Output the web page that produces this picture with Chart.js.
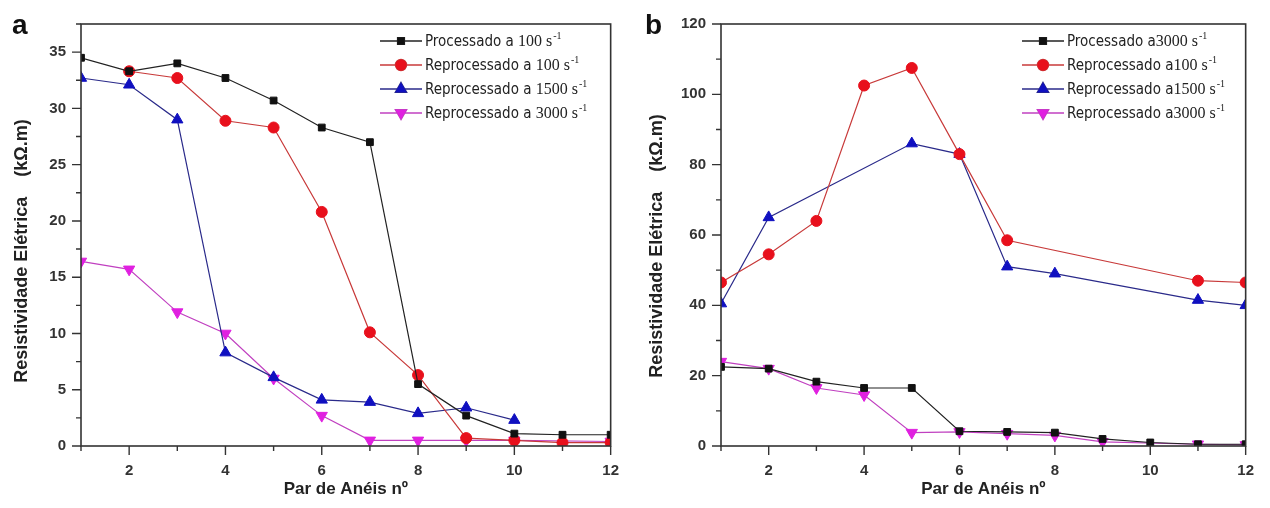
<!DOCTYPE html>
<html>
<head>
<meta charset="utf-8">
<script src="https://cdn.jsdelivr.net/npm/chart.js@4.4.1/dist/chart.umd.min.js"></script>
<style>
  body { margin: 0; background: #fff; }
  .panel { position: absolute; top: 0; }
</style>
</head>
<body>
<canvas id="chart-a" class="panel" width="635" height="508" style="left:0"></canvas>
<canvas id="chart-b" class="panel" width="635" height="508" style="left:635px"></canvas>
<script>
// Ring pair number (x axis), shared by both panels
const rings = [1, 2, 3, 4, 5, 6, 7, 8, 9, 10, 11, 12];

// Panel a
const procA100 = [34.5, 33.3, 34.0, 32.7, 30.7, 28.3, 27.0, 5.5, 2.7, 1.1, 1.0, 1.0];
const reprocA100 = [null, 33.3, 32.7, 28.9, 28.3, 20.8, 10.1, 6.3, 0.7, 0.5, 0.3, 0.3];
const reprocA1500 = [32.7, 32.1, 29.0, 8.3, 6.1, 4.1, 3.9, 2.9, 3.4, 2.3, null, null];
const reprocA3000 = [16.4, 15.7, 11.9, 10.0, 6.0, 2.7, 0.5, 0.5, 0.5, 0.5, null, 0.4];
const labelsA = ['Processado a ', 'Reprocessado a ', 'Reprocessado a ', 'Reprocessado a '];
const ratesA = ['100', '100', '1500', '3000'];

// Panel b
const procB3000 = [22.5, 22.0, 18.3, 16.5, 16.5, 4.2, 4.0, 3.8, 2.0, 1.0, 0.5, 0.5];
const reprocB100 = [46.5, 54.5, 64.0, 102.5, 107.5, 83.0, 58.5, null, null, null, 47.0, 46.5];
const reprocB1500 = [40.5, 65.0, null, null, 86.0, 83.0, 51.0, 49.0, null, null, 41.5, 40.0];
const reprocB3000 = [24.0, 22.0, 16.5, 14.5, 3.8, 4.0, 3.5, 3.0, 1.2, null, 0.5, 0.3];
const labelsB = ['Processado a', 'Reprocessado a', 'Reprocessado a', 'Reprocessado a'];
const ratesB = ['3000', '100', '1500', '3000'];

const styles = [
    { color: '#111111', line: '#222222', point: 'rect', radius: 4.8, rot: 0 },
    { color: '#e8101c', line: '#c83a3a', point: 'circle', radius: 5.5, rot: 0 },
    { color: '#1010c0', line: '#2a2a8a', point: 'triangle', radius: 6.5, rot: 0 },
    { color: '#e020e0', line: '#c040c0', point: 'triangle', radius: 6.5, rot: 180 }
];

function toPoints(values) {
    return rings.map((x, i) => ({ x: x, y: values[i] })).filter(p => p.y !== null);
}

function makeDatasets(series) {
    return series.map((values, i) => ({
        data: toPoints(values),
        borderColor: styles[i].line,
        borderWidth: 1.2,
        pointStyle: styles[i].point,
        pointRotation: styles[i].rot,
        pointRadius: styles[i].radius,
        pointBackgroundColor: styles[i].color,
        pointBorderColor: styles[i].color,
        pointBorderWidth: 1,
        tension: 0
    }));
}

// frame, minor/major ticks, titles, panel letter and legend
const decor = {
    id: 'decor',
    afterDraw(chart, args, opts) {
        const ctx = chart.ctx;
        const a = chart.chartArea;
        const xs = chart.scales.x, ys = chart.scales.y;
        ctx.save();
        ctx.strokeStyle = '#333';
        ctx.lineWidth = 1.6;
        ctx.strokeRect(a.left, a.top, a.right - a.left, a.bottom - a.top);

        ctx.lineWidth = 1.4;
        ctx.beginPath();
        xs.ticks.forEach(t => {
            const px = xs.getPixelForValue(t.value);
            const len = t.value % 2 === 0 ? 9 : 5;
            ctx.moveTo(px, a.bottom);
            ctx.lineTo(px, a.bottom + len);
        });
        ys.ticks.forEach(t => {
            const py = ys.getPixelForValue(t.value);
            const len = t.value % opts.major === 0 ? 9 : 5;
            ctx.moveTo(a.left, py);
            ctx.lineTo(a.left - len, py);
        });
        ctx.stroke();

        // axis titles
        ctx.fillStyle = '#222';
        ctx.font = 'bold 17px "Liberation Sans", Arial, sans-serif';
        ctx.textAlign = 'center';
        ctx.textBaseline = 'middle';
        ctx.fillText('Par de Anéis nº', (a.left + a.right) / 2, 489);
        ctx.save();
        ctx.translate(22, opts.yTitleMid);
        ctx.rotate(-Math.PI / 2);
        ctx.font = 'bold 18px "Liberation Sans", Arial, sans-serif';
        ctx.fillText('Resistividade Elétrica    (kΩ.m)', 0, 0);
        ctx.restore();

        // panel letter
        ctx.font = 'bold 28px "Liberation Sans", Arial, sans-serif';
        ctx.textAlign = 'left';
        ctx.textBaseline = 'alphabetic';
        ctx.fillStyle = '#111';
        ctx.fillText(opts.letter, opts.letterX, 34);

        // legend
        chart.data.datasets.forEach((ds, i) => {
            const y = 41 + i * 24;
            const lx = opts.legendX;
            ctx.strokeStyle = ds.borderColor;
            ctx.lineWidth = 1.4;
            ctx.beginPath();
            ctx.moveTo(lx, y);
            ctx.lineTo(lx + 42, y);
            ctx.stroke();
            Chart.helpers.drawPoint(ctx, {
                pointStyle: ds.pointStyle, rotation: ds.pointRotation,
                radius: ds.pointRadius, borderWidth: 1
            }, lx + 21, y);
            ctx.fillStyle = ds.pointBackgroundColor;
            ctx.fill();
            ctx.fillStyle = '#222';
            ctx.textBaseline = 'middle';
            let tx = lx + 45;
            ctx.font = '15px "DejaVu Sans Condensed", "Liberation Sans Narrow", "Liberation Sans", sans-serif';
            ctx.fillText(opts.labels[i], tx, y + 1);
            tx += ctx.measureText(opts.labels[i]).width;
            ctx.font = '16px "Liberation Serif", serif';
            const rate = opts.rates[i] + ' s';
            ctx.fillText(rate, tx, y + 1);
            tx += ctx.measureText(rate).width + 1;
            ctx.font = '10px "Liberation Serif", serif';
            ctx.fillText('-1', tx, y - 5);
        });
        ctx.restore();
    }
};

function makeChart(id, series, yMax, yStep, major, pad, decorOpts) {
    return new Chart(document.getElementById(id), {
        type: 'line',
        data: { datasets: makeDatasets(series) },
        plugins: [decor],
        options: {
            responsive: false,
            animation: false,
            devicePixelRatio: 1,
            layout: { padding: pad },
            plugins: { legend: { display: false }, tooltip: { enabled: false }, decor: decorOpts },
            scales: {
                x: {
                    type: 'linear', min: 1, max: 12,
                    grid: { display: false, drawTicks: false },
                    border: { display: false },
                    afterFit: s => { s.height = 62; },
                    ticks: {
                        stepSize: 1, padding: 16, color: '#333',
                        font: { family: '"Liberation Sans", Arial, sans-serif', size: 15, weight: 'bold' },
                        callback: v => (v % 2 === 0 ? v : '')
                    }
                },
                y: {
                    min: 0, max: yMax,
                    grid: { display: false, drawTicks: false },
                    border: { display: false },
                    afterFit: s => { s.width = pad.yWidth; },
                    ticks: {
                        stepSize: yStep, padding: 15, color: '#333',
                        font: { family: '"Liberation Sans", Arial, sans-serif', size: 15, weight: 'bold' },
                        callback: v => (v % major === 0 ? v : '')
                    }
                }
            }
        }
    });
}

makeChart('chart-a', [procA100, reprocA100, reprocA1500, reprocA3000], 37.5, 2.5, 5,
    { top: 14, right: 19, left: 0, bottom: 0, yWidth: 81 },
    { major: 5, letter: 'a', letterX: 12, yTitleMid: 251, legendX: 380, labels: labelsA, rates: ratesA });

makeChart('chart-b', [procB3000, reprocB100, reprocB1500, reprocB3000], 120, 10, 20,
    { top: 20, right: 22, left: 0, bottom: 0, yWidth: 86 },
    { major: 20, letter: 'b', letterX: 10, yTitleMid: 246, legendX: 387, labels: labelsB, rates: ratesB });
</script>
</body>
</html>
